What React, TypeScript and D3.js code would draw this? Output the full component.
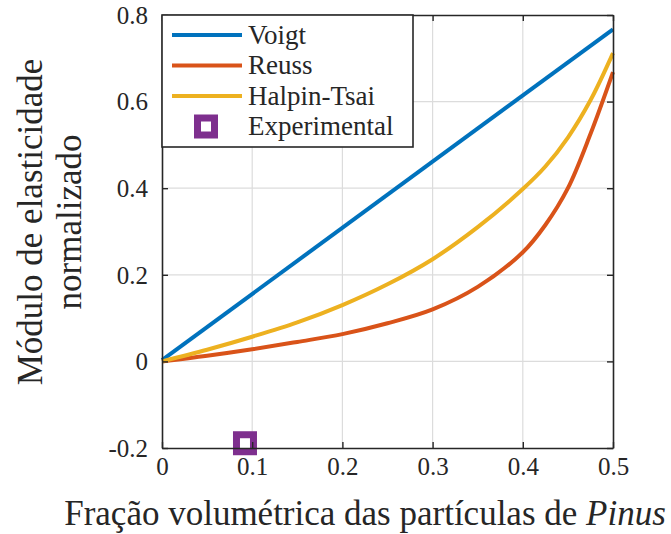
import React, { useEffect, useRef } from "react";
import * as d3 from "d3";

// volume fraction of Pinus particles
const voigtX = [0, 0.5];
const voigtY = [0.003, 0.767];

const reussX = [0, 0.05, 0.1, 0.15, 0.2, 0.25, 0.3, 0.35, 0.4, 0.425, 0.45, 0.475, 0.5];
const reussY = [0, 0.013, 0.028, 0.045, 0.063, 0.088, 0.12, 0.172, 0.252, 0.315, 0.4, 0.525, 0.668];

const halpinX = [0, 0.05, 0.1, 0.15, 0.2, 0.25, 0.3, 0.35, 0.4, 0.425, 0.45, 0.475, 0.5];
const halpinY = [0, 0.027, 0.057, 0.09, 0.13, 0.178, 0.236, 0.31, 0.398, 0.45, 0.517, 0.603, 0.712];

const experimentalX = [0.092];
const experimentalY = [-0.189];

const xTicks = [0, 0.1, 0.2, 0.3, 0.4, 0.5];
const yTicks = [-0.2, 0, 0.2, 0.4, 0.6, 0.8];
const legendLabels = ["Voigt", "Reuss", "Halpin-Tsai", "Experimental"];

const App = () => {
  const ref = useRef<SVGSVGElement>(null);

  useEffect(() => {
    const svg = d3.select(ref.current);
    svg.selectAll("*").remove();

    const width = 671;
    const height = 534;
    const margin = { top: 15, right: 58, bottom: 86, left: 162 };
    const innerWidth = width - margin.left - margin.right;
    const innerHeight = height - margin.top - margin.bottom;
    const font = "Liberation Serif, Times New Roman, serif";
    const textColor = "#262626";
    const colors = ["#0072BD", "#D95319", "#EDB120", "#7E2F8E"];
    const fmt = (d: number) => String(+d.toFixed(2)); // plain hyphen minus, like the original

    const g = svg.append("g").attr("transform", `translate(${margin.left},${margin.top})`);

    const x = d3.scaleLinear().domain([0, 0.5]).range([0, innerWidth]);
    const y = d3.scaleLinear().domain([-0.2, 0.8]).range([innerHeight, 0]);

    // grid
    g.append("g")
      .selectAll("line")
      .data(xTicks.slice(1, -1))
      .join("line")
      .attr("x1", d => x(d)).attr("x2", d => x(d))
      .attr("y1", 0).attr("y2", innerHeight)
      .attr("stroke", "#dcdcdc").attr("stroke-width", 1.2);
    g.append("g")
      .selectAll("line")
      .data(yTicks.slice(1, -1))
      .join("line")
      .attr("x1", 0).attr("x2", innerWidth)
      .attr("y1", d => y(d)).attr("y2", d => y(d))
      .attr("stroke", "#dcdcdc").attr("stroke-width", 1.2);

    // curves
    const line = d3.line<[number, number]>()
      .x(d => x(d[0]))
      .y(d => y(d[1]))
      .curve(d3.curveCatmullRom.alpha(0.5));

    const series = [
      { xs: voigtX, ys: voigtY, color: colors[0] },
      { xs: reussX, ys: reussY, color: colors[1] },
      { xs: halpinX, ys: halpinY, color: colors[2] },
    ];
    series.forEach(s => {
      g.append("path")
        .datum(s.xs.map((v, i) => [v, s.ys[i]] as [number, number]))
        .attr("fill", "none")
        .attr("stroke", s.color)
        .attr("stroke-width", 4)
        .attr("d", line);
    });

    // experimental point
    g.selectAll("rect.exp")
      .data(experimentalX.map((v, i) => [v, experimentalY[i]]))
      .join("rect")
      .attr("class", "exp")
      .attr("x", d => x(d[0]) - 8.5)
      .attr("y", d => y(d[1]) - 8.5)
      .attr("width", 17)
      .attr("height", 17)
      .attr("fill", "white")
      .attr("stroke", colors[3])
      .attr("stroke-width", 7);

    // axes (box with inward ticks)
    const tickLen = 6;
    const xAxis = g.append("g").attr("transform", `translate(0,${innerHeight})`)
      .call(d3.axisBottom(x).tickValues(xTicks).tickSizeInner(-tickLen).tickSizeOuter(0).tickPadding(9).tickFormat(d => fmt(d as number)));
    const yAxis = g.append("g")
      .call(d3.axisLeft(y).tickValues(yTicks).tickSizeInner(-tickLen).tickSizeOuter(0).tickPadding(14).tickFormat(d => fmt(d as number)));
    g.append("g")
      .call(d3.axisTop(x).tickValues(xTicks).tickSizeInner(-tickLen).tickSizeOuter(0).tickFormat(() => ""));
    g.append("g").attr("transform", `translate(${innerWidth},0)`)
      .call(d3.axisRight(y).tickValues(yTicks).tickSizeInner(-tickLen).tickSizeOuter(0).tickFormat(() => ""));

    g.selectAll(".domain").attr("stroke", textColor).attr("stroke-width", 1.6);
    g.selectAll(".tick line").attr("stroke", textColor).attr("stroke-width", 1.4);
    [xAxis, yAxis].forEach(a => a.selectAll("text")
      .style("font-family", font).style("font-size", "25px").attr("fill", textColor));
    yAxis.selectAll("text").attr("dy", "0.33em");

    // legend
    const legend = g.append("g");
    legend.append("rect")
      .attr("x", 0).attr("y", 0)
      .attr("width", 251).attr("height", 132)
      .attr("fill", "white").attr("stroke", textColor).attr("stroke-width", 1.6);
    legendLabels.forEach((label, i) => {
      const cy = 20 + i * 30.5;
      if (i < 3) {
        legend.append("line")
          .attr("x1", 10).attr("x2", 80)
          .attr("y1", cy).attr("y2", cy)
          .attr("stroke", colors[i]).attr("stroke-width", 4);
      } else {
        legend.append("rect")
          .attr("x", 44 - 8.5).attr("y", cy - 8.5)
          .attr("width", 17).attr("height", 17)
          .attr("fill", "white").attr("stroke", colors[3]).attr("stroke-width", 7);
      }
      legend.append("text")
        .attr("x", 86).attr("y", cy)
        .attr("dy", "0.33em")
        .style("font-family", font).style("font-size", "27px").attr("fill", textColor)
        .text(label);
    });

    // axis titles
    const xTitle = svg.append("text")
      .attr("x", 365).attr("y", 525)
      .attr("text-anchor", "middle")
      .style("font-family", font).style("font-size", "35px").attr("fill", textColor);
    xTitle.append("tspan").text("Fração volumétrica das partículas de ");
    xTitle.append("tspan").attr("font-style", "italic").text("Pinus");

    const yTitle = svg.append("text")
      .attr("transform", "translate(42,222) rotate(-90)")
      .attr("text-anchor", "middle")
      .style("font-family", font).style("font-size", "35px").attr("fill", textColor);
    yTitle.append("tspan").attr("x", 0).attr("y", 0).text("Módulo de elasticidade");
    yTitle.append("tspan").attr("x", 0).attr("y", 39).text("normalizado");
  }, []);

  return (
    <svg
      ref={ref}
      width={671}
      height={534}
      style={{ position: "absolute", left: 0, top: 0, background: "white" }}
    />
  );
};

export default App;
